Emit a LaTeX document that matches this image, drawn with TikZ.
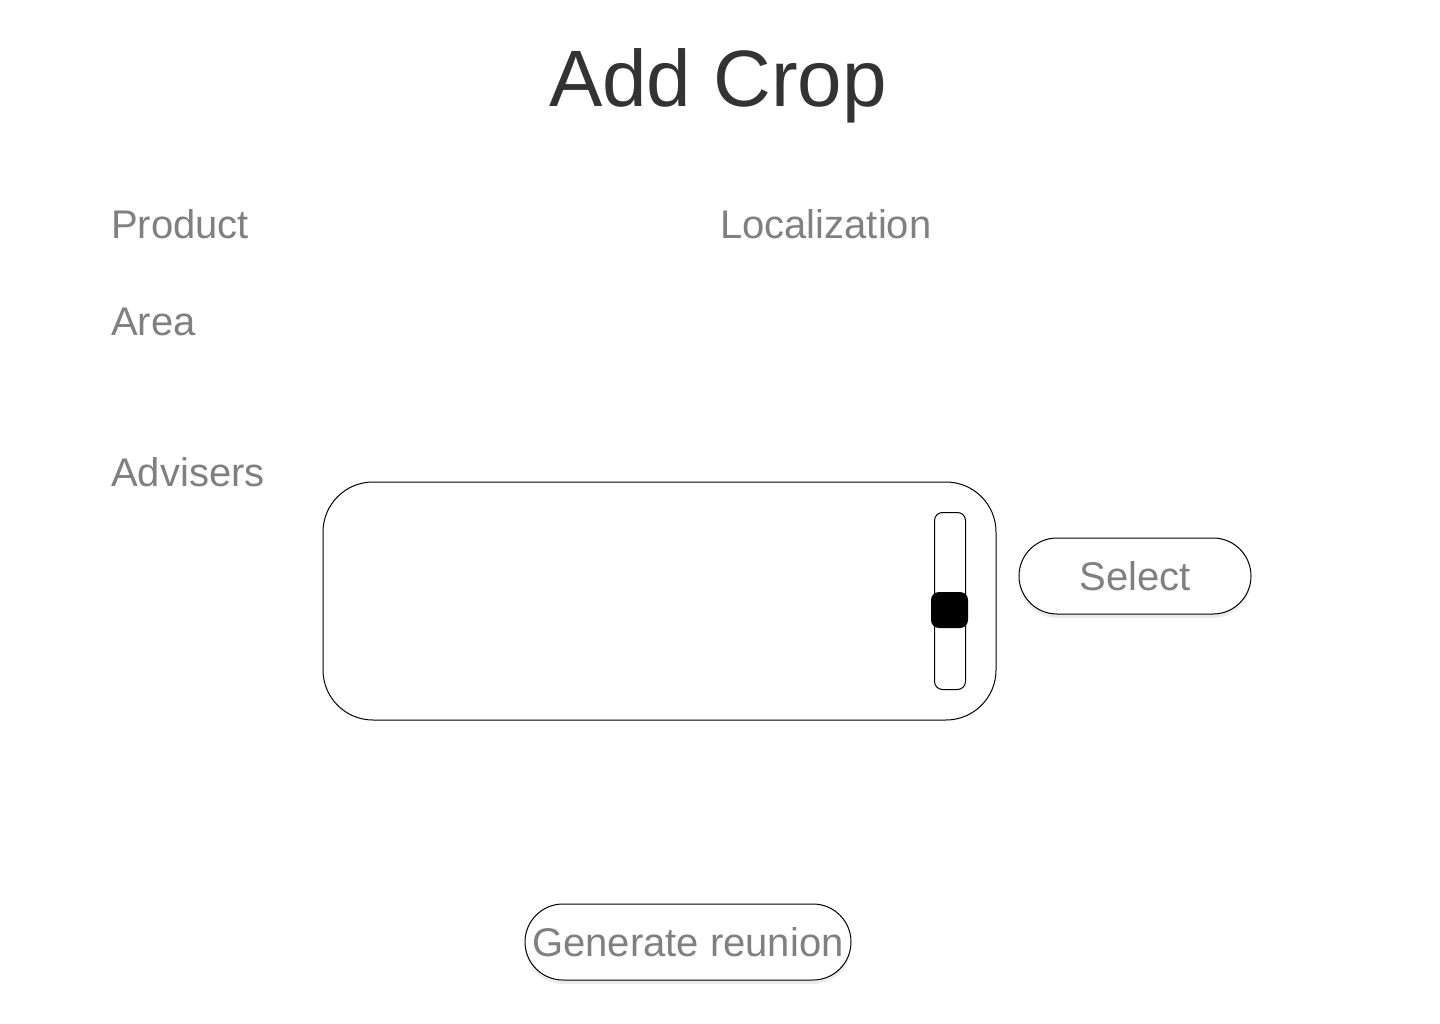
\documentclass[tikz,border=0pt]{standalone}
\usepackage{fontspec}
\setmainfont{Liberation Sans}
\usetikzlibrary{shadows}
\definecolor{labelgray}{HTML}{808080}
\definecolor{titlegray}{HTML}{333333}
\tikzset{
  lbl/.style={anchor=base west, inner sep=0pt, text=labelgray, font=\fontsize{40}{48}\selectfont},
  btn/.style={draw=black, line width=1pt, fill=white, rounded corners=38pt, minimum height=76pt,
     inner sep=0pt, text=labelgray, font=\fontsize{40}{48}\selectfont,
     drop shadow={opacity=0.15, shadow xshift=0pt, shadow yshift=-4pt}},
  box/.style={draw=black, line width=1pt, fill=white},
}
\begin{document}
\begin{tikzpicture}[x=1pt, y=-1pt]
\useasboundingbox (0,0) rectangle (1440,1024);
\node[anchor=base, inner sep=0pt, text=titlegray, font=\fontsize{80}{96}\selectfont] (title) at (718,107) {Add Crop};
\node[lbl] (product) at (111,239) {Product};
\node[lbl] (loc) at (720,239) {Localization};
\node[lbl] (area) at (111,335) {Area};
\node[lbl] (adv) at (111,486) {Advisers};
\draw[box, rounded corners=50pt] (323,482) rectangle (996,720);
\coordinate (listbox) at (659.5,601);
\draw[box, rounded corners=8pt] (934.5,512.5) rectangle (965.5,689.5);
\fill[black, rounded corners=8pt] (931,592) rectangle (968,628);
\node[btn, minimum width=232pt] (select) at (1135,576) {Select};
\node[btn, minimum width=326pt] (gen) at (688,942) {Generate reunion};
\end{tikzpicture}
\end{document}
